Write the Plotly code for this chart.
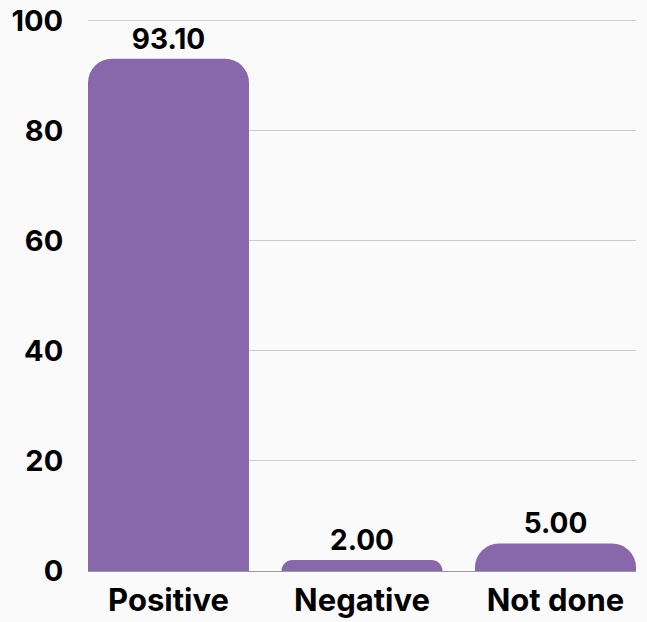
import plotly.graph_objects as go

categories = ["Positive", "Negative", "Not done"]
values = [93.10, 2.00, 5.00]
tick_vals = [0, 20, 40, 60, 80, 100]

FONT = "Inter"
fig = go.Figure(go.Bar(
    x=categories, y=values,
    marker=dict(color="#8967ab", line=dict(width=0)),
    text=[f"{v:.2f}" for v in values],
    textposition="outside",
    textfont=dict(family=FONT, size=28, color="#000000", weight="bold"),
    cliponaxis=False,
    hoverinfo="skip",
))
fig.update_layout(
    width=647, height=622,
    margin=dict(l=88, r=11, t=19, b=51, autoexpand=False),
    paper_bgcolor="#fafafa", plot_bgcolor="#fafafa",
    bargap=0.168, barcornerradius=24,
    showlegend=False,
    font=dict(family=FONT, size=28, color="#000000", weight="bold"),
)
fig.update_xaxes(range=[-0.416, 2.416], showgrid=False, showline=False, automargin=False,
                 ticks="outside", ticklen=2, tickcolor="rgba(0,0,0,0)",
                 tickfont=dict(family=FONT, size=31, weight="bold"))
fig.update_yaxes(range=[0, 100.3], tickvals=tick_vals, showgrid=True, gridcolor="#cccccc",
                 gridwidth=1, zeroline=True, zerolinecolor="#999999", zerolinewidth=1,
                 automargin=False,
                 ticks="outside", ticklen=18, tickcolor="rgba(0,0,0,0)",
                 tickfont=dict(family=FONT, size=29, weight="bold"))
fig.write_html(
    "out.html",
    config={"displayModeBar": False},
    post_script="document.body.style.margin='0';document.body.style.background='#fafafa';",
)
